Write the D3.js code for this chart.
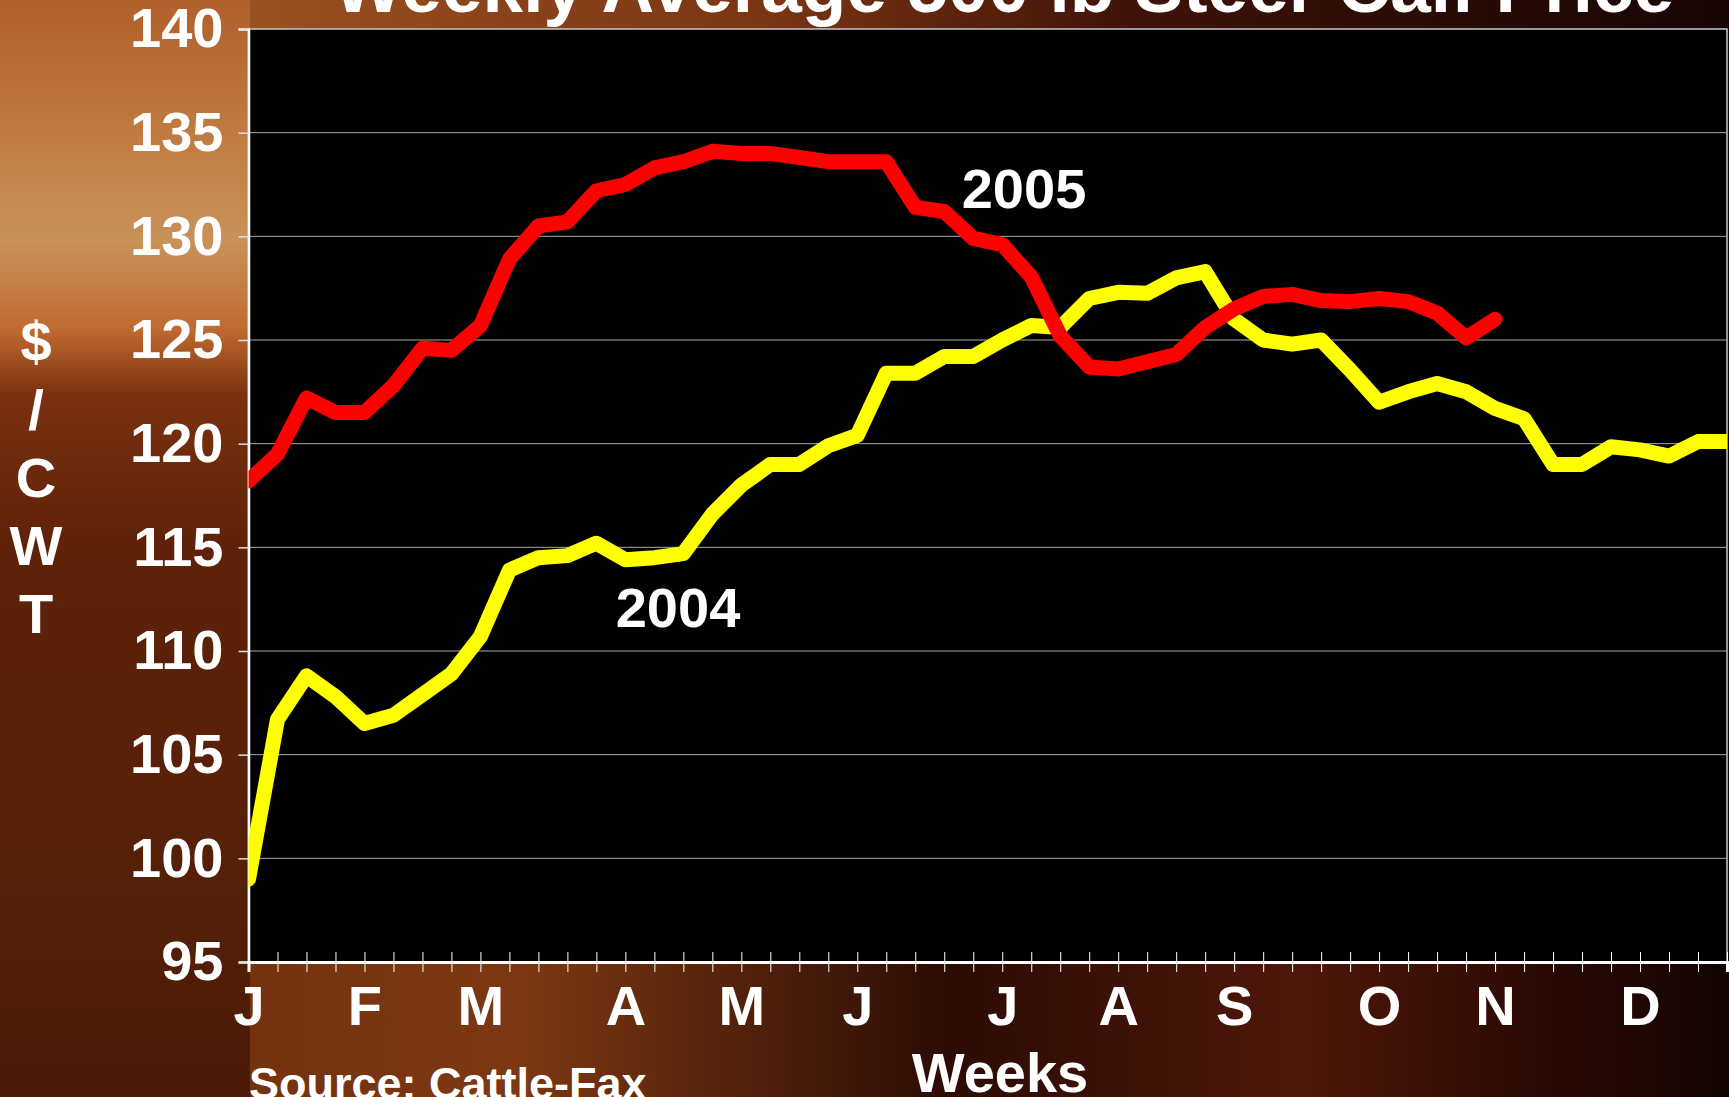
<!DOCTYPE html>
<html>
<head>
<meta charset="utf-8">
<script src="https://cdn.jsdelivr.net/npm/d3@7"></script>
<style>
  html, body { margin: 0; padding: 0; background: #3a1206; }
  svg { display: block; }
  text { font-family: "Liberation Sans", Arial, sans-serif; font-weight: bold; fill: #fff; }
</style>
</head>
<body>
<div id="chart"></div>
<script>
// month initials and the week each one sits on
const monthLabels = ['J', 'F', 'M', 'A', 'M', 'J', 'J', 'A', 'S', 'O', 'N', 'D'];
const monthWeeks = [0, 4, 8, 13, 17, 21, 26, 30, 34, 39, 43, 48];

const yTicks = [95, 100, 105, 110, 115, 120, 125, 130, 135, 140];

// weekly average price, $/cwt
const price2004 = [99.0, 106.7, 108.8, 107.8, 106.5, 106.9, 107.9, 108.9, 110.7, 113.9,
  114.5, 114.6, 115.2, 114.4, 114.5, 114.7, 116.6, 118.0, 119.0, 119.0,
  119.9, 120.4, 123.4, 123.4, 124.2, 124.2, 125.0, 125.7, 125.6, 127.0,
  127.3, 127.25, 128.0, 128.3, 126.0, 125.0, 124.8, 125.0, 123.55, 122.0,
  122.5, 122.9, 122.5, 121.7, 121.2, 119.0, 119.0, 119.85, 119.7, 119.4,
  120.1, 120.1];

const price2005 = [118.2, 119.5, 122.2, 121.5, 121.5, 122.8, 124.6, 124.5, 125.7, 128.9,
  130.5, 130.7, 132.2, 132.5, 133.3, 133.6, 134.1, 134.0, 134.0, 133.8,
  133.6, 133.6, 133.6, 131.4, 131.2, 129.9, 129.6, 128.05, 125.2, 123.7,
  123.6, 123.95, 124.3, 125.6, 126.5, 127.1, 127.2, 126.9, 126.85, 127.0,
  126.85, 126.3, 125.1, 126.0];

const weekCount = 52;

const width = 1729;
const height = 1097;
const plot = { left: 248.5, right: 1727, top: 29, bottom: 962 };

const svg = d3.select('#chart')
  .append('svg')
  .attr('width', width)
  .attr('height', height);

const defs = svg.append('defs');

// rough stand-in for the photo behind the slide
function gradient(id, x2, y2, stops) {
  const g = defs.append('linearGradient')
    .attr('id', id)
    .attr('x1', 0).attr('y1', 0).attr('x2', x2).attr('y2', y2);
  stops.forEach(s => g.append('stop').attr('offset', s[0]).attr('stop-color', s[1]));
}
gradient('bgBase', 1, 0, [[0, '#6e2c0c'], [0.3, '#7c3812'], [0.55, '#2c0c05'], [0.75, '#4e1709'], [0.9, '#2a0905'], [1, '#120402']]);
gradient('bgLeft', 0, 1, [[0, '#b0602c'], [0.12, '#c07a40'], [0.22, '#c8925a'], [0.3, '#c06a30'], [0.36, '#7a3010'], [0.5, '#5e2209'], [0.8, '#552008'], [1, '#4a1a06']]);
gradient('bgTop', 1, 0, [[0, '#9a5020'], [0.35, '#7a3514'], [0.6, '#3e1208'], [1, '#160504']]);

svg.append('rect').attr('width', width).attr('height', height).attr('fill', 'url(#bgBase)');
svg.append('rect').attr('width', 250).attr('height', height).attr('fill', 'url(#bgLeft)');
svg.append('rect').attr('x', 250).attr('width', width - 250).attr('height', plot.top).attr('fill', 'url(#bgTop)');

const x = d3.scaleLinear()
  .domain([0, weekCount - 1])
  .range([plot.left, plot.right]);

const y = d3.scaleLinear()
  .domain([95, 140])
  .range([plot.bottom, plot.top]);

// plot area
svg.append('rect')
  .attr('x', plot.left)
  .attr('y', plot.top)
  .attr('width', plot.right - plot.left)
  .attr('height', plot.bottom - plot.top)
  .attr('fill', '#000')
  .attr('stroke', '#c8c8c8')
  .attr('stroke-width', 1.5);

svg.append('g')
  .selectAll('line')
  .data(yTicks.slice(1, -1))
  .enter().append('line')
  .attr('x1', plot.left)
  .attr('x2', plot.right)
  .attr('y1', d => y(d))
  .attr('y2', d => y(d))
  .attr('stroke', '#a8a8a8')
  .attr('stroke-width', 1);

// y axis
const yAxis = svg.append('g')
  .attr('transform', `translate(${plot.left},0)`)
  .call(d3.axisLeft(y).tickValues(yTicks).tickSize(10).tickPadding(15).tickFormat(d3.format('d')));
yAxis.select('.domain').attr('stroke', '#fff').attr('stroke-width', 2.5);
yAxis.selectAll('.tick line').attr('stroke', '#e0e0e0').attr('stroke-width', 1.5);
yAxis.selectAll('.tick text')
  .attr('fill', '#fff')
  .style('font-family', '"Liberation Sans", Arial, sans-serif')
  .style('font-weight', 'bold')
  .style('font-size', '56px');

// x axis, one tick per week, month initials on some of them
const labelByWeek = {};
monthWeeks.forEach((w, i) => { labelByWeek[w] = monthLabels[i]; });

const xAxis = svg.append('g')
  .attr('transform', `translate(0,${plot.bottom})`)
  .call(d3.axisBottom(x)
    .tickValues(d3.range(weekCount))
    .tickSize(10)
    .tickPadding(13)
    .tickFormat(d => labelByWeek[d] || ''));
xAxis.select('.domain').attr('stroke', '#fff').attr('stroke-width', 3);
xAxis.selectAll('.tick line').attr('stroke', '#fff').attr('stroke-width', 1).attr('y1', -10);
xAxis.selectAll('.tick text')
  .attr('fill', '#fff')
  .style('font-family', '"Liberation Sans", Arial, sans-serif')
  .style('font-weight', 'bold')
  .style('font-size', '56px');

// series
svg.append('clipPath').attr('id', 'plotClip')
  .append('rect')
  .attr('x', plot.left)
  .attr('y', plot.top - 20)
  .attr('width', plot.right - plot.left)
  .attr('height', plot.bottom - plot.top + 40);

const line = d3.line()
  .x((d, i) => x(i))
  .y(d => y(d));

const series = [
  { values: price2004, color: '#ffff00' },
  { values: price2005, color: '#ff0000' }
];

svg.append('g')
  .attr('clip-path', 'url(#plotClip)')
  .selectAll('path')
  .data(series)
  .enter().append('path')
  .attr('d', d => line(d.values))
  .attr('fill', 'none')
  .attr('stroke', d => d.color)
  .attr('stroke-width', 15)
  .attr('stroke-linejoin', 'round')
  .attr('stroke-linecap', 'round');

// series labels
svg.append('text').attr('x', 1024).attr('y', 208).attr('text-anchor', 'middle')
  .style('font-size', '56px').text('2005');
svg.append('text').attr('x', 678).attr('y', 627).attr('text-anchor', 'middle')
  .style('font-size', '56px').text('2004');

// title, cut off by the top of the slide
svg.append('text').attr('x', 1004).attr('y', 12).attr('text-anchor', 'middle')
  .style('font-size', '73px').text('Weekly Average 500 lb Steer Calf Price');

// y axis title, stacked letters
const yTitle = ['$', '/', 'C', 'W', 'T'];
svg.append('g')
  .selectAll('text')
  .data(yTitle)
  .enter().append('text')
  .attr('x', 36)
  .attr('y', (d, i) => 361 + i * 68)
  .attr('text-anchor', 'middle')
  .style('font-size', '56px')
  .text(d => d);

svg.append('text').attr('x', 1000).attr('y', 1092).attr('text-anchor', 'middle')
  .style('font-size', '56px').text('Weeks');

svg.append('text').attr('x', 249).attr('y', 1099)
  .style('font-size', '45px').text('Source: Cattle-Fax');
</script>
</body>
</html>
